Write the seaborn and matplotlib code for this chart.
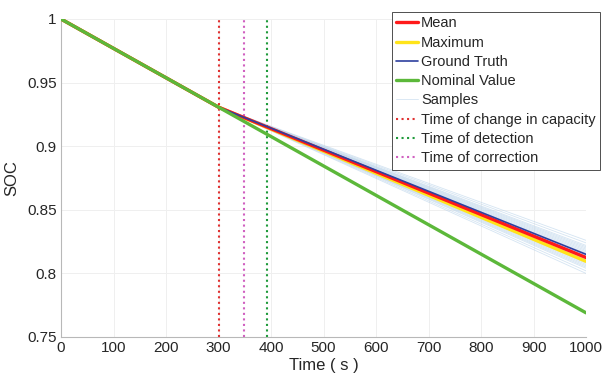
import numpy as np
import pandas as pd
import matplotlib
matplotlib.use("Agg")
import matplotlib.pyplot as plt
import seaborn as sns

# Data
t_change = 300
t_detect = 393
t_correct = 348
time_points = [0, 300, 1000]
nominal = [1.0, 0.9307, 0.769]
ground_truth = [1.0, 0.9307, 0.815]
mean_soc = [1.0, 0.9307, 0.8125]
max_soc = [1.0, 0.9307, 0.8095]
sample_ends = [0.826, 0.824, 0.822, 0.820, 0.818, 0.817, 0.816, 0.814, 0.813, 0.812,
               0.811, 0.810, 0.809, 0.808, 0.807, 0.806, 0.805, 0.804, 0.802, 0.812,
               0.815, 0.819, 0.821, 0.800]

sns.set_theme(style="whitegrid")
plt.rcParams['font.family'] = ['Liberation Sans', 'DejaVu Sans']

fig, ax = plt.subplots(figsize=(6.03, 3.74), dpi=100)
fig.subplots_adjust(left=61/603, right=586/603, top=1-19/374, bottom=1-337/374)

for i, e in enumerate(sample_ends):
    df = pd.DataFrame({"t": [300, 1000], "v": [0.9307, e]})
    sns.lineplot(data=df, x="t", y="v", ax=ax, color="#b9d3ea", lw=0.6, alpha=0.6,
                 label="Samples" if i == 0 else None)

def line(vals, color, lw, label, z):
    df = pd.DataFrame({"t": time_points, "v": vals})
    sns.lineplot(data=df, x="t", y="v", ax=ax, color=color, lw=lw, label=label, zorder=z)

line(mean_soc, "#ff1a1a", 2.4, "Mean", 4)
line(max_soc, "#ffe41a", 2.4, "Maximum", 3)
line(ground_truth, "#2e3f9e", 1.2, "Ground Truth", 5)
line(nominal, "#5cb83a", 2.4, "Nominal Value", 6)

ax.axvline(t_change, color="#e03030", ls=":", lw=1.5, label="Time of change in capacity")
ax.axvline(t_detect, color="#1e9a3a", ls=":", lw=1.5, label="Time of detection")
ax.axvline(t_correct, color="#d060c0", ls=":", lw=1.5, label="Time of correction")

ax.set_xlim(0, 1000)
ax.set_ylim(0.75, 1.0)
ax.set_xticks(range(0, 1001, 100))
ax.set_yticks([0.75, 0.8, 0.85, 0.9, 0.95, 1.0])
ax.set_yticklabels(["0.75", "0.8", "0.85", "0.9", "0.95", "1"])
ax.set_xlabel("Time ( s )", fontsize=12, color="#262626", labelpad=2)
ax.set_ylabel("SOC", fontsize=12, color="#262626", labelpad=6)
ax.tick_params(axis="both", labelsize=11, colors="#262626", direction="in", length=3,
               width=0.6, pad=3)
ax.tick_params(axis="both", color="#b0b0b0")
ax.grid(True, color="#efefef", lw=0.7)
ax.set_facecolor("white")
for s in ["top", "right"]:
    ax.spines[s].set_visible(False)
for s in ["left", "bottom"]:
    ax.spines[s].set_color("#b8b8b8")
    ax.spines[s].set_linewidth(0.8)

handles, labels = ax.get_legend_handles_labels()
order = ["Mean", "Maximum", "Ground Truth", "Nominal Value", "Samples",
         "Time of change in capacity", "Time of detection", "Time of correction"]
hmap = dict(zip(labels, handles))
leg = ax.legend([hmap[l] for l in order], order, loc="upper right",
                bbox_to_anchor=(1.027, 1.022), fontsize=10.5, frameon=True,
                fancybox=False, edgecolor="#333333", framealpha=1,
                handlelength=1.5, handletextpad=0.2, borderpad=0.3,
                labelspacing=0.36, borderaxespad=0)
leg.get_frame().set_linewidth(0.6)

fig.savefig("out.png", dpi=100)
